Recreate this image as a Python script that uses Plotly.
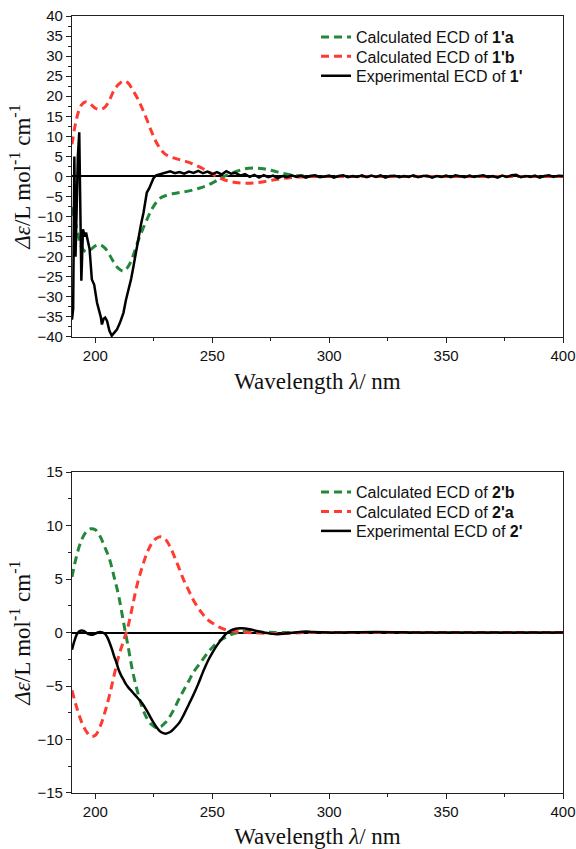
import plotly.graph_objects as go
from plotly.subplots import make_subplots

# ---- top panel: compound 1' ----
calc1a_x = [190, 192, 194, 196, 198, 200, 202, 204, 206, 208, 210, 212, 214, 216, 218, 220,
            222, 224, 226, 228, 230, 233, 236, 240, 244, 248, 252, 256, 260, 264, 268, 272,
            276, 280, 285, 290, 300, 320, 340, 360, 380, 400]
calc1a_y = [-7.7, -13, -17.5, -18.8, -18.2, -17.3, -17, -17.8, -19.5, -21.5, -23, -23.6, -22.5, -20,
            -16.5, -13.5, -10.8, -8.3, -6.5, -5.3, -4.8, -4.3, -4, -3.6, -3, -2.2, -1, 0.3, 1.2,
            1.9, 2.1, 1.9, 1.4, 0.8, 0.3, 0.1, 0, 0, 0, 0, 0, 0]

calc1b_x = [190, 192, 194, 196, 198, 200, 202, 204, 206, 208, 210, 212, 214, 216, 218, 220,
            222, 224, 226, 228, 230, 233, 236, 240, 244, 248, 252, 256, 260, 264, 268, 272,
            276, 280, 285, 290, 300, 320, 340, 360, 380, 400]
calc1b_y = [8, 14.5, 17.8, 18.6, 18, 17, 16.7, 17.2, 19, 21.5, 23, 23.8, 23.3, 21.5, 19.5, 17,
            14.2, 11.2, 8.6, 6.7, 5.5, 4.7, 4.2, 3.5, 2.5, 1.3, 0, -1, -1.5, -1.7, -1.6, -1.3,
            -0.9, -0.5, -0.2, -0.05, 0, 0, 0, 0, 0, 0]

exp1_x = [190, 190.5, 191, 191.5, 192, 192.5, 193.1, 193.6, 194, 194.7, 195.5, 196, 196.7,
          197.5, 198.5, 199.5, 200.7, 201.5, 202.3, 202.8, 203.5, 204.2, 205, 206, 207, 208,
          209.2, 210.5, 212, 213, 214.2, 215.3, 216.3, 217.4, 218.4, 219.5, 220.6, 221.3,
          222, 223, 224, 224.8,
          226, 228, 230, 232, 234, 236, 238, 240, 242, 244, 246, 248, 250, 252, 254, 256,
          258, 260, 262, 264, 266, 268, 270, 272, 274, 276, 278, 280, 282, 284, 286, 288,
          290, 292, 294, 296, 298, 300, 302, 304, 306, 308, 310, 312, 314, 316, 318, 320,
          322, 324, 326, 328, 330, 332, 334, 336, 338, 340, 342, 344, 346, 348, 350, 352,
          354, 356, 358, 360, 362, 364, 366, 368, 370, 372, 374, 376, 378, 380, 382, 384,
          386, 388, 390, 392, 394, 396, 398, 400]
exp1_y = [-35.7, -33, 5, -20, -8, 5, 11, -10, -26, -13.2, -15, -14, -16,
          -18, -25.7, -27, -31.5, -33, -35, -36.9, -35.5, -35.2, -36, -38.5, -39.7, -39,
          -38.2, -36.5, -34, -31, -28.2, -25.5, -22.4, -18.5, -14.9, -12, -9, -6.5,
          -4, -3, -1.5, -0.5,
          0.3, 0.6, 0.9, 1.3, 0.8, 1.1, 0.7, 1.2, 0.9, 1.4, 0.8, 1.2, 0.6, 1.1, 0.5, 1.3,
          0.7, 0.9, 0.2, 0.6, -0.1, 0.4, -0.3, 0.3, -0.2, 0.2, -0.4, 0.1, -0.2, 0.3, -0.1, 0.2,
          -0.3, 0.1, 0.3, -0.2, 0.0, 0.2, -0.3, 0.1, 0.3, -0.2, 0.1, -0.1, 0.3, -0.2, 0.2, -0.1,
          0.3, -0.3, 0.1, 0.2, -0.2, 0.1, -0.1, 0.3, -0.2, 0.1, 0.2, -0.3, 0.1, -0.1, 0.2, -0.2,
          0.3, 0.0, -0.2, 0.2, -0.1, 0.1, 0.3, -0.2, 0.1, -0.3, 0.2, -0.1, 0.3, 0.4, -0.2, 0.1,
          -0.1, 0.2, -0.3, 0.1, 0.3, -0.1, 0.2, 0.1]

# ---- bottom panel: compound 2' ----
calc2b_x = [190, 192, 194, 196, 198, 200, 202, 204, 206, 208, 210, 212, 214, 216, 218, 220,
            222, 224, 226, 228, 230, 232, 234, 236, 238, 240, 242, 245, 248, 250, 253, 256,
            260, 264, 270, 280, 300, 320, 340, 360, 380, 400]
calc2b_y = [5.2, 7.2, 8.6, 9.4, 9.7, 9.6, 9.0, 8.0, 6.9, 5.2, 3.4, 1.0, -1.3, -3.7, -5.5, -7.0,
            -8.0, -8.6, -8.9, -8.8, -8.4, -7.8, -7.0, -6.1, -5.3, -4.5, -3.7, -2.8, -1.9, -1.4,
            -0.8, -0.4, -0.05, 0.1, 0.05, 0, 0, 0, 0, 0, 0, 0]

calc2a_x = [190, 192, 194, 196, 198, 200, 202, 204, 206, 208, 210, 212, 214, 216, 218, 220,
            222, 224, 226, 228, 230, 232, 234, 236, 238, 240, 242, 244, 246, 248, 250, 253,
            256, 260, 265, 270, 280, 290, 300, 320, 340, 360, 380, 400]
calc2a_y = [-5.4, -7.0, -8.3, -9.2, -9.7, -9.6, -8.8, -7.5, -5.9, -4.0, -2.2, -0.8, 0.6, 2.6,
            4.6, 6.1, 7.4, 8.3, 8.8, 8.95, 8.7, 8.0, 7.0, 5.9, 4.8, 3.9, 3.0, 2.3, 1.7, 1.2,
            0.9, 0.5, 0.25, 0.1, 0.0, -0.05, -0.1, 0.0, 0, 0, 0, 0, 0, 0]

exp2_x = [190, 191, 192, 193, 194, 195, 196, 197, 198, 199, 200, 201, 202, 203, 204, 205,
          206, 207, 208, 209, 210, 211, 212, 213, 214, 216, 218, 220, 222, 224, 226, 228,
          230, 232, 234, 236, 238, 240, 242, 244, 246, 248, 250, 252, 254, 256, 258, 260,
          262, 264, 266, 268, 270, 272, 275, 278, 281, 285, 290, 293, 300, 320, 340, 360,
          380, 400]
exp2_y = [-1.6, -0.8, -0.2, 0.1, 0.2, 0.15, 0.0, -0.15, -0.2, -0.2, -0.1, 0.0, 0.05, 0.0,
          -0.1, -0.4, -0.9, -1.5, -2.2, -2.8, -3.5, -4.0, -4.4, -4.8, -5.1, -5.6, -6.1, -6.6,
          -7.3, -8.1, -8.8, -9.3, -9.45, -9.3, -8.9, -8.4, -7.6, -6.7, -5.8, -4.8, -3.7, -2.7,
          -1.9, -1.2, -0.6, -0.1, 0.2, 0.35, 0.4, 0.38, 0.3, 0.2, 0.1, 0.0, -0.1, -0.15, -0.1,
          0.0, 0.1, 0.05, 0.0, 0.05, 0.0, 0.0, 0.0, 0.0]

GREEN = "#23883a"
RED = "#ff3a30"
DASH = "8px,5px"

fig = make_subplots(rows=2, cols=1)

# one legend per entry so the row spacing can follow the original
fig.add_trace(go.Scatter(x=calc1a_x, y=calc1a_y, mode="lines", line_shape="spline",
                         name="Calculated ECD of <b>1'a</b>", legend="legend", showlegend=True,
                         line=dict(color=GREEN, width=3, dash=DASH)), row=1, col=1)
fig.add_trace(go.Scatter(x=calc1b_x, y=calc1b_y, mode="lines", line_shape="spline",
                         name="Calculated ECD of <b>1'b</b>", legend="legend2",
                         line=dict(color=RED, width=3, dash=DASH)), row=1, col=1)
fig.add_trace(go.Scatter(x=exp1_x, y=exp1_y, mode="lines",
                         name="Experimental ECD of <b>1'</b>", legend="legend3",
                         line=dict(color="black", width=2.5)), row=1, col=1)

fig.add_trace(go.Scatter(x=calc2b_x, y=calc2b_y, mode="lines", line_shape="spline",
                         name="Calculated ECD of <b>2'b</b>", legend="legend4",
                         line=dict(color=GREEN, width=3, dash=DASH)), row=2, col=1)
fig.add_trace(go.Scatter(x=calc2a_x, y=calc2a_y, mode="lines", line_shape="spline",
                         name="Calculated ECD of <b>2'a</b>", legend="legend5",
                         line=dict(color=RED, width=3, dash=DASH)), row=2, col=1)
fig.add_trace(go.Scatter(x=exp2_x, y=exp2_y, mode="lines", line_shape="spline",
                         name="Experimental ECD of <b>2'</b>", legend="legend6",
                         line=dict(color="black", width=2.5)), row=2, col=1)

axis_style = dict(showline=True, linecolor="#222", linewidth=1.3, mirror=True,
                  ticks="outside", ticklen=5, tickwidth=1.3, tickcolor="#222",
                  showgrid=False, zeroline=False, automargin=False,
                  ticklabeloverflow="allow",
                  tickfont=dict(family="Liberation Sans, Arial", size=15, color="#111"))

ytitle = "<i>Δε</i>/L mol<sup>-1</sup> cm<sup>-1</sup>"
xtitle = "Wavelength <i>λ</i>/ nm"
title_font = dict(family="Liberation Serif, Times New Roman", size=23, color="#111")

for r, (lo, hi) in zip([1, 2], [(-40, 40), (-15, 15)]):
    fig.update_xaxes(axis_style, range=[190, 400], tick0=200, dtick=50,
                     minor=dict(ticks="outside", ticklen=3, dtick=25, tick0=200,
                                tickcolor="#222", tickwidth=1.3),
                     title=dict(text=xtitle, font=title_font, standoff=9), row=r, col=1)
    fig.update_yaxes(axis_style, range=[lo, hi], dtick=5,
                     zeroline=True, zerolinecolor="black", zerolinewidth=1.8,
                     minor=dict(ticks="outside", ticklen=3, dtick=2.5,
                                tickcolor="#222", tickwidth=1.3),
                     title=dict(text=ytitle, font=title_font, standoff=0), row=r, col=1)

legend_font = dict(family="Liberation Sans, Arial", size=16, color="#111")
row_y = [0.973, 0.948, 0.923, 0.3874, 0.3623, 0.3372]
legends = {}
for i, yy in enumerate(row_y):
    key = "legend" if i == 0 else "legend%d" % (i + 1)
    legends[key] = dict(x=0.497, y=yy, xanchor="left", yanchor="middle",
                        bgcolor="rgba(0,0,0,0)", font=legend_font)

fig.update_layout(
    width=576, height=849,
    margin=dict(l=72, r=13, t=16, b=56),
    plot_bgcolor="white", paper_bgcolor="white",
    showlegend=True,
    xaxis=dict(domain=[0, 1], anchor="y"),
    yaxis=dict(domain=[0.587, 1.0]),
    xaxis2=dict(domain=[0, 1], anchor="y2"),
    yaxis2=dict(domain=[0.0, 0.413]),
    **legends,
)

# drop the default page margin so the figure sits at the window's corner
fig.write_html("out.html", config={"displayModeBar": False},
               post_script="document.body.style.margin='0';document.body.style.overflow='hidden';")
